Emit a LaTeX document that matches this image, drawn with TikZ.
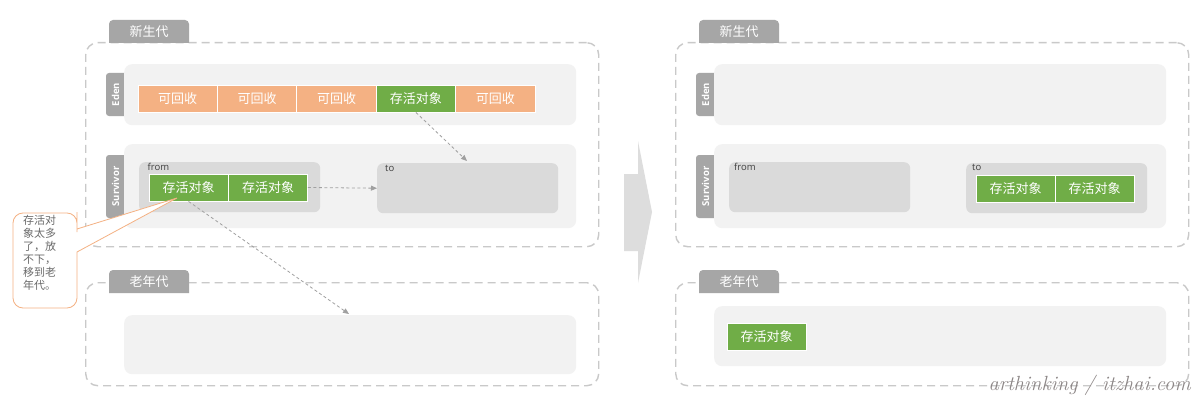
\documentclass[tikz,border=0pt]{standalone}
\usepackage{fontspec}
\newfontfamily\cjk{Noto Sans CJK SC}
\newfontfamily\lat{Open Sans}
\usetikzlibrary{arrows.meta}
\definecolor{tabgray}{HTML}{A6A6A6}
\definecolor{lightbg}{HTML}{F2F2F2}
\definecolor{midbg}{HTML}{DADADA}
\definecolor{dashc}{HTML}{C9C9C9}
\definecolor{orangec}{HTML}{F4B183}
\definecolor{greenc}{HTML}{70AD47}
\definecolor{arrowc}{HTML}{A0A0A0}
\definecolor{calltext}{HTML}{6A6A6A}
\definecolor{bigarrow}{HTML}{DDDDDD}
\definecolor{wmc}{HTML}{8C8686}
\begin{document}
\begin{tikzpicture}[x=1pt,y=-1pt,
 genbox/.style={draw=dashc, line width=1.4pt, dash pattern=on 8pt off 5pt, rounded corners=12pt, minimum width=513pt, inner sep=0, anchor=north west},
 areabox/.style={fill=lightbg, rounded corners=8pt, minimum width=452pt, inner sep=0, anchor=north west},
 spacebox/.style={fill=midbg, rounded corners=6pt, minimum width=181pt, minimum height=50pt, inner sep=0, anchor=north west},
 cellbase/.style={draw=white, line width=0.8pt, minimum height=27pt, inner sep=0, text=white, font=\cjk\fontsize{13}{15}\selectfont},
 recl/.style={cellbase, fill=orangec, minimum width=79.4pt},
 live/.style={cellbase, fill=greenc, minimum width=79pt},
 tabtext/.style={text=white, font=\cjk\fontsize{13}{15}\selectfont, inner sep=0},
 sidetext/.style={text=white, font=\lat\bfseries\fontsize{9.5}{11}\selectfont, rotate=90, inner sep=0},
 spacelabel/.style={text=black!75, font=\lat\fontsize{9.5}{10}\selectfont, inner sep=0, anchor=west},
 flow/.style={draw=arrowc, line width=0.8pt, dash pattern=on 3pt off 2.5pt, -{Triangle[length=6pt,width=5pt]}},
 callout/.style={draw=orangec, fill=white, line width=0.8pt},
]
\useasboundingbox (0,0) rectangle (1200,404);
\fill[white] (0,0) rectangle (1200,404);

% ================= LEFT PANEL =================
\node[genbox, minimum height=204pt] (lyoung) at (85,42) {};
\node[genbox, minimum height=103pt] (lold) at (85,282) {};
% tabs
\fill[tabgray] (109,43) -- (109,35) {[rounded corners=4pt] -- (109,20) -- (189,20) -- (189,35)} -- (189,43) -- cycle;
\node[tabtext] (lyoungtab) at (149,31.5) {新生代};
\fill[tabgray] (109,293) -- (109,285) {[rounded corners=4pt] -- (109,270) -- (189,270) -- (189,285)} -- (189,293) -- cycle;
\node[tabtext] (loldtab) at (149,281.5) {老年代};
% side tabs
\fill[tabgray] (130,73) -- (112,73) {[rounded corners=3pt] -- (106,73) -- (106,116) -- (112,116)} -- (130,116) -- cycle;
\fill[tabgray] (130,155) -- (112,155) {[rounded corners=3pt] -- (106,155) -- (106,218) -- (112,218)} -- (130,218) -- cycle;
% areas
\node[areabox, minimum height=61pt] (leden) at (124,64) {};
\node[areabox, minimum height=84pt] (lsurv) at (124,144) {};
\node[areabox, minimum height=59pt] (loldarea) at (124,315) {};
\node[sidetext] (ledentab) at (115.5,94.5) {Eden};
\node[sidetext] (lsurvtab) at (115.5,186.5) {Survivor};
% from / to
\node[spacebox] (lfrom) at (139,162) {};
\node[spacebox] (lto) at (377,163) {};
\node[spacelabel] (lfromlbl) at (147.5,166.5) {from};
\node[spacelabel] (ltolbl) at (385,168.5) {to};
% eden cells
\node[recl] (e1) at (177.7,98.5) {可回收};
\node[recl] (e2) at (257.1,98.5) {可回收};
\node[recl] (e3) at (336.5,98.5) {可回收};
\node[live, minimum width=79.4pt] (e4) at (415.9,98.5) {存活对象};
\node[recl] (e5) at (495.3,98.5) {可回收};
% from cells
\node[live] (f1) at (188.5,187.5) {存活对象};
\node[live] (f2) at (268,187.5) {存活对象};
% connectors
\coordinate (t1) at (467,161);
\coordinate (o1) at (349,314);
\draw[flow] (e4.south) -- (t1);
\draw[flow] (f2.east) -- (lto.west);
\draw[flow] (f1.south) -- (o1);
% callout
\coordinate (cp) at (177,198);
\draw[callout] (77,260) {[rounded corners=10pt] -- (77,308) -- (13,308) -- (13,213) -- (77,213) -- (77,222)} -- (77,229) -- (cp) -- (77,252) -- cycle;
\node[anchor=north west, align=left, inner sep=0, text=calltext, font=\cjk\fontsize{11}{13}\selectfont] (calltxt) at (23,215.5) {存活对\\象太多\\了，放\\不下，\\移到老\\年代。};

% ================= MIDDLE ARROW =================
\fill[bigarrow] (624,174) -- (638,174) -- (638,141) -- (652,212) -- (638,283) -- (638,251) -- (624,251) -- cycle;

% ================= RIGHT PANEL =================
\node[genbox, minimum height=204pt] (ryoung) at (675,42) {};
\node[genbox, minimum height=103pt] (rold) at (675,282) {};
\fill[tabgray] (699,43) -- (699,35) {[rounded corners=4pt] -- (699,20) -- (779,20) -- (779,35)} -- (779,43) -- cycle;
\node[tabtext] (ryoungtab) at (739,31.5) {新生代};
\fill[tabgray] (699,293) -- (699,285) {[rounded corners=4pt] -- (699,270) -- (779,270) -- (779,285)} -- (779,293) -- cycle;
\node[tabtext] (roldtab) at (739,281.5) {老年代};
\fill[tabgray] (720,73) -- (702,73) {[rounded corners=3pt] -- (696,73) -- (696,116) -- (702,116)} -- (720,116) -- cycle;
\fill[tabgray] (720,155) -- (702,155) {[rounded corners=3pt] -- (696,155) -- (696,218) -- (702,218)} -- (720,218) -- cycle;
\node[areabox, minimum height=61pt] (reden) at (714,64) {};
\node[areabox, minimum height=84pt] (rsurv) at (714,144) {};
\node[areabox, minimum height=60pt] (roldarea) at (714,306) {};
\node[sidetext] (redentab) at (705.5,94.5) {Eden};
\node[sidetext] (rsurvtab) at (705.5,186.5) {Survivor};
\node[spacebox] (rfrom) at (729,162) {};
\node[spacebox] (rto) at (966,163) {};
\node[spacelabel] (rfromlbl) at (734,166.5) {from};
\node[spacelabel] (rtolbl) at (972,167.5) {to};
\node[live] (r1) at (1015.5,189) {存活对象};
\node[live] (r2) at (1094.5,189) {存活对象};
\node[live] (ro1) at (766.5,336.5) {存活对象};

% watermark
\node[anchor=base east, inner sep=0, text=wmc, font=\itshape\fontsize{20.5}{24}\selectfont] (wm) at (1191,390) {arthinking / itzhai.com};
\end{tikzpicture}
\end{document}
